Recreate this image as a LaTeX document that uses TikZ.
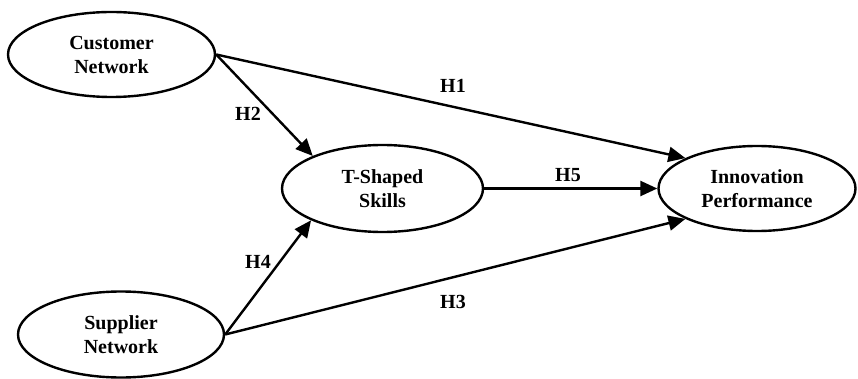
\documentclass[tikz,border=0pt]{standalone}
\usepackage{fontspec}
\setmainfont{Liberation Serif}
\usetikzlibrary{shapes.geometric,arrows.meta}

\begin{document}
\begin{tikzpicture}[x=1pt,y=-1pt,line width=2.4pt,
	latent/.style={ellipse, draw, inner sep=0pt, align=center, font=\fontsize{20}{24}\selectfont\bfseries},
	hyp/.style={font=\fontsize{20}{24}\selectfont\bfseries},
	path/.style={-{Triangle[length=17pt,width=15pt]}}]
	\useasboundingbox (0,0) rectangle (858,379);
	\node (CN) at (111.5, 54.5)	[latent, minimum width=207pt, minimum height=85pt]	{Customer\\Network};
	\node (SN) at (121, 334.5)	[latent, minimum width=206pt, minimum height=86pt]	{Supplier\\Network};
	\node (TS) at (382.5, 188.5)	[latent, minimum width=201pt, minimum height=87pt]	{T-Shaped\\Skills};
	\node (IP) at (757, 188.5)	[latent, minimum width=197pt, minimum height=85pt]	{Innovation\\Performance};
	\draw[path] (CN.east) -- (IP.157);
	\draw[path] (CN.east) -- (TS.155);
	\draw[path] (SN.east) -- (TS.204);
	\draw[path] (SN.east) -- (IP.203.5);
	\draw[path] (TS.east) -- (IP.west);
	\node (H1) at (453, 86)	[hyp]	{H1};
	\node (H2) at (248, 114)	[hyp]	{H2};
	\node (H3) at (453, 302)	[hyp]	{H3};
	\node (H4) at (258, 262)	[hyp]	{H4};
	\node (H5) at (568, 175)	[hyp]	{H5};
\end{tikzpicture}
\end{document}
